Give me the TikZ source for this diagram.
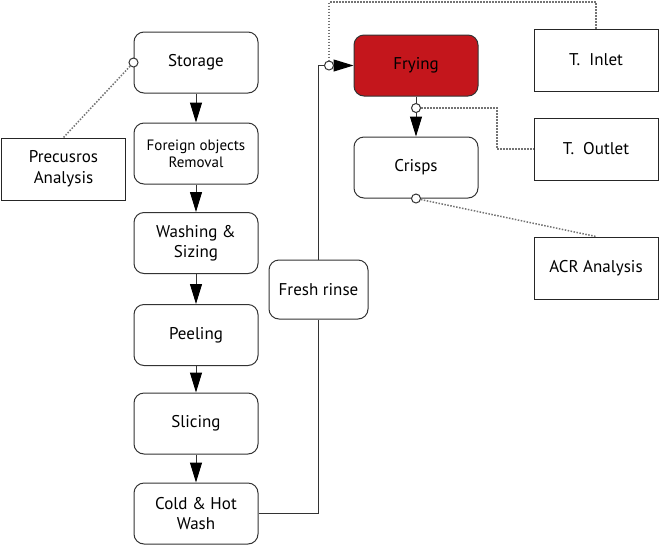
\documentclass[tikz,border=0pt]{standalone}
\usepackage{fontspec}
\setmainfont{PT Sans}
\usetikzlibrary{arrows.meta}
\definecolor{fryred}{HTML}{C4161C}
\tikzset{
  procbox/.style={draw=black!80, line width=1pt, rounded corners=10pt, minimum width=124pt, minimum height=61pt, align=center, inner sep=2pt, font=\fontsize{17}{20}\selectfont},
  measbox/.style={draw=black!85, line width=1pt, minimum width=124pt, minimum height=62pt, align=center, inner sep=2pt, font=\fontsize{17}{21}\selectfont},
  flow/.style={draw=black!80, line width=1pt, -{Triangle[length=20pt,width=12pt,color=black]}},
  probe/.style={draw=black!55, line width=1.5pt, dash pattern=on 1.5pt off 1.5pt},
  tap/.style={circle, draw=black!80, fill=white, line width=1pt, inner sep=0pt, minimum size=9pt}
}
\begin{document}
\begin{tikzpicture}[x=1pt, y=-1pt]
			%%%%% START %%%%%
			\useasboundingbox (0, 0) rectangle (659, 547);
			
			% left column
			\node[procbox] (storage) at (196, 62.5) {Storage};
			\node[procbox, font=\fontsize{15}{17}\selectfont] (foreign) at (196, 153.5) {Foreign objects\\Removal};
			\node[procbox] (washing) at (196, 243) {Washing \&\\Sizing};
			\node[procbox] (peeling) at (196, 335) {Peeling};
			\node[procbox] (slicing) at (196, 423.5) {Slicing};
			\node[procbox] (coldhot) at (196, 513.5) {Cold \& Hot\\Wash};
			
			\draw[flow] (storage) -- (foreign);
			\draw[flow] (foreign) -- (washing);
			\draw[flow] (washing) -- (peeling);
			\draw[flow] (peeling) -- (slicing);
			\draw[flow] (slicing) -- (coldhot);
			
			% rinse and frying
			\node[procbox, minimum width=99pt, minimum height=59pt] (rinse) at (318.5, 289.5) {Fresh rinse};
			\node[procbox, fill=fryred] (frying) at (416, 65.5) {Frying};
			\node[procbox] (crisps) at (416, 167.5) {Crisps};
			
			\draw[draw=black!80, line width=1pt] (coldhot.east) -| (rinse.south);
			\draw[flow] (rinse.north) |- (frying.west);
			\draw[flow] (frying) -- (crisps);
			
			% measurement boxes
			\node[measbox] (precursor) at (63.5, 169) {Precusros\\Analysis};
			\node[measbox] (inlet) at (596, 60) {T.\hspace{9pt}Inlet};
			\node[measbox] (outlet) at (596, 149) {T.\hspace{9pt}Outlet};
			\node[measbox] (acr) at (596, 268) {ACR Analysis};
			
			% sampling points
			\node[tap] (tapstore) at (storage.west) {};
			\node[tap] (tapin) at (329, 65.5) {};
			\node[tap] (tapout) at (416, 108) {};
			\node[tap] (tapcrisp) at (crisps.south) {};
			
			\draw[probe] (tapstore) -- (precursor.north);
			\draw[probe] (inlet.north) -- (596, 2) -| (tapin);
			\draw[probe] (tapout) -- (497, 108) |- (outlet.west);
			\draw[probe] (tapcrisp) -- (acr.north);
			
			%%%%% END %%%%%
\end{tikzpicture}
\end{document}
